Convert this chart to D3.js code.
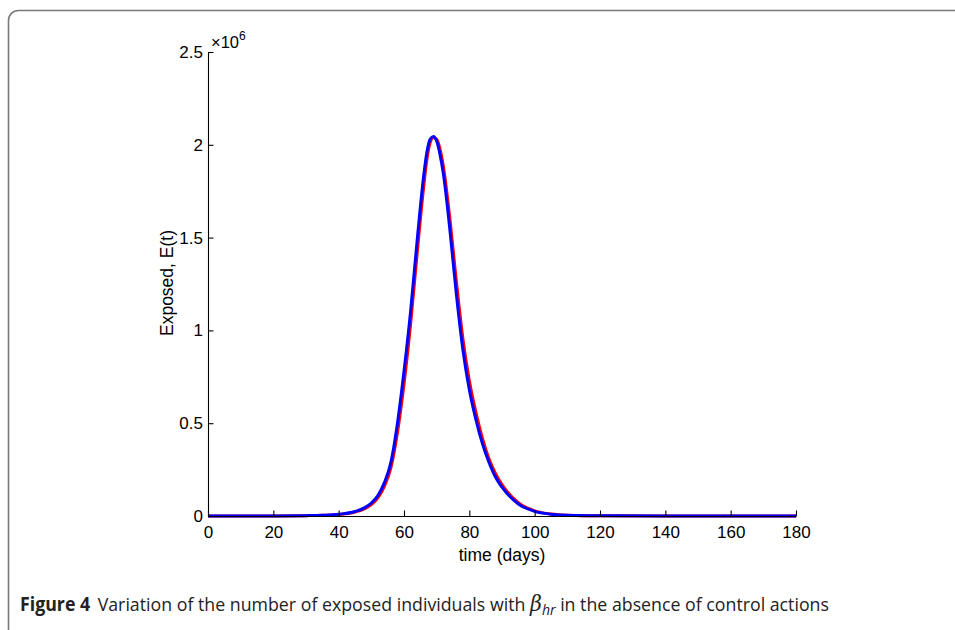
<!DOCTYPE html>
<html><head><meta charset="utf-8">
<script src="https://cdn.jsdelivr.net/npm/d3@7"></script>
<style>body{margin:0;background:#fff}svg{display:block}</style>
</head><body>
<svg id="c" width="955" height="630"></svg>
<script>
// time (days)
const days = [0,10,20,30,35,40,45,48,50,52,54,56,58,60,62,64,66,67,68,69,70,71,72,74,76,78,80,82,84,86,88,90,95,100,105,110,120,140,160,180];
// Exposed E(t), in units of 10^6
const exposedRed  = [0,0,0.0004,0.0018,0.0035,0.008,0.021,0.04,0.062,0.098,0.16,0.26,0.45,0.71,1.03,1.41,1.77,1.92,2.01,2.04,2.03,1.98,1.89,1.61,1.27,0.96,0.73,0.56,0.42,0.31,0.23,0.17,0.072,0.028,0.011,0.0045,0.001,0,0,0];
const exposedBlue = [0,0,0.0005,0.002,0.004,0.009,0.024,0.045,0.07,0.11,0.18,0.29,0.5,0.78,1.1,1.48,1.83,1.96,2.03,2.045,2.02,1.95,1.85,1.55,1.2,0.9,0.68,0.52,0.39,0.29,0.21,0.155,0.065,0.025,0.01,0.004,0.001,0,0,0];
const xTicks = [0,20,40,60,80,100,120,140,160,180];
const yTicks = [0,0.5,1,1.5,2,2.5];

const svg = d3.select("#c");
// frame
svg.append("rect").attr("x",8.5).attr("y",10.5).attr("width",1000).attr("height",700)
  .attr("rx",10).attr("fill","none").attr("stroke","#7a7a7a").attr("stroke-width",1.6);

const x = d3.scaleLinear().domain([0,180]).range([208,796]);
const y = d3.scaleLinear().domain([0,2.5]).range([516,52]);

const font = "'Liberation Sans', Arial, sans-serif";

const line = d3.line().x((d,i)=>x(days[i])).y(d=>y(d)).curve(d3.curveMonotoneX);
svg.append("path").datum(exposedRed).attr("d",line).attr("fill","none")
  .attr("stroke","#ff0000").attr("stroke-width",3);
svg.append("path").datum(exposedBlue).attr("d",line).attr("fill","none")
  .attr("stroke","#0000ff").attr("stroke-width",3);

const xAxis = d3.axisBottom(x).tickValues(xTicks).tickSizeInner(-5.5).tickSizeOuter(0).tickPadding(10);
const gx = svg.append("g").attr("transform","translate(0,516)").call(xAxis);
const yAxis = d3.axisLeft(y).tickValues(yTicks).tickSizeInner(-5.5).tickSizeOuter(0).tickPadding(5)
  .tickFormat(d=>d);
const gy = svg.append("g").attr("transform","translate(208,0)").call(yAxis);
[gx,gy].forEach(g=>{
  g.attr("font-size","17px").attr("font-family",font);
  g.selectAll("path.domain").attr("stroke","#000").attr("stroke-width",1.1);
  g.selectAll(".tick line").attr("stroke","#000").attr("stroke-width",1.1);
  g.selectAll(".tick text").attr("font-size","17px").attr("font-family",font).attr("fill","#000");
});

svg.append("text").attr("x",502).attr("y",561).attr("text-anchor","middle")
  .attr("font-family",font).attr("font-size","17.5px").text("time (days)");
svg.append("text").attr("transform","translate(173,283) rotate(-90)").attr("text-anchor","middle")
  .attr("font-family",font).attr("font-size","17.5px").text("Exposed, E(t)");

const m = svg.append("text").attr("x",211).attr("y",48).attr("font-family",font).attr("font-size","16.5px");
m.append("tspan").text("×10");
m.append("tspan").attr("dy",-8).attr("font-size","12px").text("6");

const cap = svg.append("text").attr("x",20).attr("y",611).attr("font-family","'Open Sans', sans-serif")
  .attr("font-size","19px").attr("fill","#222");
cap.append("tspan").attr("font-weight","bold").text("Figure 4");
cap.append("tspan").attr("dx",8).text("Variation of the number of exposed individuals with ");
cap.append("tspan").attr("font-family","'DejaVu Serif', serif").attr("font-style","italic").attr("font-size","22px").text("β");
cap.append("tspan").attr("font-style","italic").attr("font-size","15px").attr("dy",4).text("hr");
cap.append("tspan").attr("dy",-4).text(" in the absence of control actions");
// condense caption horizontally to the reference width
const bb = cap.node().getBBox();
const s = 810 / bb.width;
cap.attr("transform", `translate(20,0) scale(${s},1) translate(-20,0)`);
</script>
</body></html>
